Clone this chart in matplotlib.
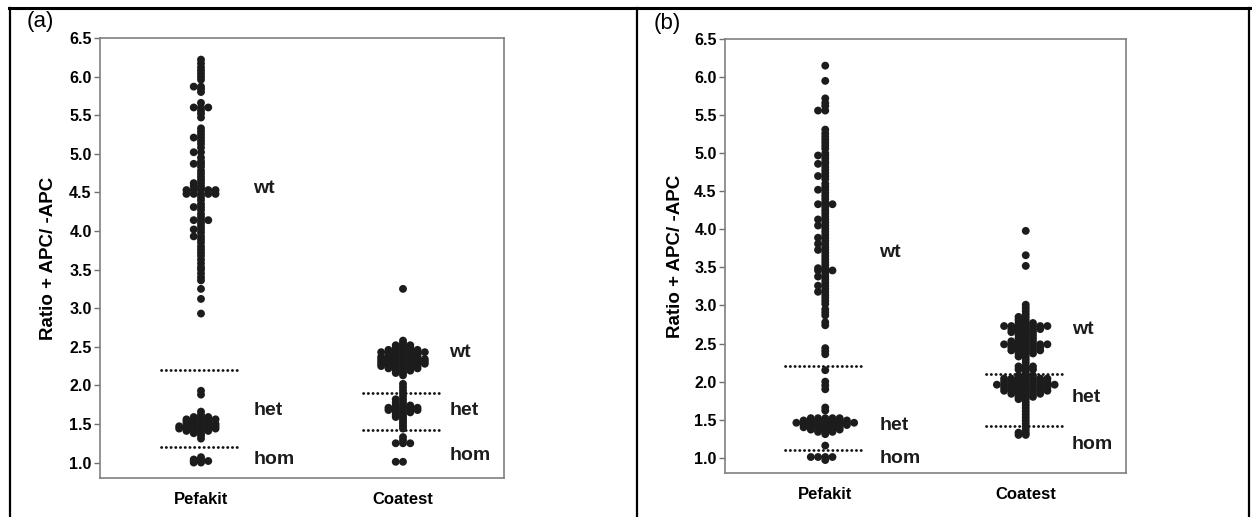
import numpy as np
import matplotlib
matplotlib.use("Agg")
import matplotlib.pyplot as plt
from matplotlib.lines import Line2D

plt.rcParams['font.family'] = ['Liberation Sans', 'DejaVu Sans']

categories = ["Pefakit", "Coatest"]

# panel (a): ratio values, and how many dots sit side by side at that value
a_pef_vals = [6.22, 6.17, 6.12, 6.08, 6.04, 6.00, 5.96, 5.87, 5.84, 5.80, 5.66, 5.60, 5.56, 5.52, 5.47,
              5.33, 5.29, 5.25, 5.21, 5.17, 5.13, 5.08, 5.02, 4.95, 4.90, 4.87, 4.83, 4.78, 4.74, 4.70,
              4.66, 4.62, 4.58, 4.55, 4.53, 4.48, 4.44, 4.40, 4.35, 4.31, 4.27, 4.22, 4.18, 4.14, 4.10,
              4.06, 4.02, 3.98, 3.93, 3.89, 3.85, 3.80, 3.76, 3.72, 3.68, 3.63, 3.58, 3.53, 3.50, 3.45,
              3.40, 3.36, 3.25, 3.12, 2.93,
              1.93, 1.88, 1.66, 1.62, 1.59, 1.56, 1.53, 1.50, 1.47, 1.44, 1.41, 1.38, 1.35, 1.31,
              1.07, 1.04, 1.02, 1.00]
a_pef_n = [1, 1, 1, 1, 1, 1, 1, 2, 1, 1, 1, 3, 1, 1, 1,
           1, 1, 1, 2, 1, 1, 1, 2, 1, 1, 2, 1, 1, 1, 1,
           1, 2, 2, 1, 5, 5, 1, 1, 1, 2, 1, 1, 1, 3, 1,
           1, 2, 1, 2, 1, 1, 1, 1, 1, 1, 1, 1, 1, 1, 1,
           1, 1, 1, 1, 1,
           1, 1, 1, 1, 3, 5, 4, 5, 6, 6, 4, 2, 1, 1,
           1, 2, 3, 2]

a_coa_vals = [3.25, 2.58, 2.55, 2.52, 2.49, 2.46, 2.43, 2.40, 2.37, 2.34, 2.31, 2.28, 2.25, 2.22, 2.19,
              2.16, 2.13,
              2.02, 1.98, 1.94, 1.90, 1.86, 1.82, 1.78, 1.74, 1.71, 1.68, 1.65, 1.62, 1.59, 1.56,
              1.53, 1.50, 1.47, 1.44,
              1.33, 1.29, 1.25, 1.01]
a_coa_n = [1, 1, 1, 3, 3, 5, 7, 5, 6, 7, 7, 7, 6, 5, 3,
           2, 1,
           1, 1, 1, 1, 1, 2, 2, 3, 5, 5, 3, 2, 2, 1,
           1, 1, 1, 1,
           1, 1, 3, 2]

# panel (b)
b_pef_vals = [6.15, 5.95, 5.72, 5.66, 5.62, 5.56, 5.31, 5.26, 5.22, 5.18, 5.14, 5.10, 5.06, 5.00, 4.97,
              4.93, 4.89, 4.86, 4.82, 4.78, 4.74, 4.70, 4.66, 4.60, 4.56, 4.52, 4.48, 4.44, 4.40, 4.36,
              4.33, 4.29, 4.25, 4.21, 4.17, 4.13, 4.09, 4.05, 4.01, 3.97, 3.93, 3.89, 3.85, 3.81, 3.77,
              3.73, 3.69, 3.65, 3.61, 3.57, 3.53, 3.49, 3.46, 3.42, 3.38, 3.34, 3.30, 3.26, 3.22, 3.18,
              3.14, 3.10, 3.06, 3.02, 2.95, 2.91, 2.87, 2.78, 2.74, 2.44, 2.40, 2.36, 2.15, 2.00, 1.95,
              1.90, 1.66, 1.62,
              1.52, 1.49, 1.46, 1.43, 1.40, 1.37, 1.34, 1.31,
              1.16, 1.01, 0.97]
b_pef_n = [1, 1, 1, 1, 1, 2, 1, 1, 1, 1, 1, 1, 1, 1, 2,
           1, 1, 2, 1, 1, 1, 2, 1, 1, 1, 2, 1, 1, 1, 1,
           3, 1, 1, 1, 1, 2, 1, 2, 1, 1, 1, 2, 1, 2, 1,
           2, 1, 1, 1, 1, 1, 2, 3, 1, 2, 1, 1, 2, 1, 2,
           1, 1, 1, 1, 1, 1, 1, 1, 1, 1, 1, 1, 1, 1, 1,
           1, 1, 1,
           5, 7, 9, 7, 6, 5, 3, 1,
           1, 4, 1]

b_coa_vals = [3.98, 3.66, 3.52, 3.01, 2.97, 2.93, 2.89, 2.85, 2.81, 2.77, 2.73, 2.69, 2.65, 2.61, 2.57,
              2.53, 2.49, 2.45, 2.41, 2.37, 2.33, 2.29, 2.25, 2.20, 2.16, 2.12, 2.08, 2.04, 2.00, 1.96,
              1.92, 1.88, 1.84, 1.80, 1.77, 1.73, 1.69, 1.65, 1.61, 1.57, 1.53, 1.49, 1.45, 1.41, 1.37,
              1.33, 1.30]
b_coa_n = [1, 1, 1, 1, 1, 1, 1, 2, 2, 3, 7, 5, 4, 3, 3,
           4, 7, 5, 5, 3, 2, 1, 1, 3, 3, 1, 3, 7, 7, 9,
           7, 7, 5, 3, 2, 1, 1, 1, 1, 1, 1, 1, 1, 1, 1,
           2, 2]

# genotype cut-off lines (upper, lower) for each method
a_cuts = [[2.2, 1.2], [1.9, 1.42]]
b_cuts = [[2.2, 1.1], [2.1, 1.42]]

genotypes = ["wt", "het", "hom"]


def dot_rows(center, vals, counts, step=0.036):
    # spread dots with equal value side by side: centre, left, right, ...
    xs, ys = [], []
    for v, n in zip(vals, counts):
        offs = [0]
        k = 1
        while len(offs) < n:
            offs.append(-k)
            if len(offs) < n:
                offs.append(k)
            k += 1
        for o in offs:
            xs.append(center + o * step)
            ys.append(v)
    return np.array(xs), np.array(ys)


def panel(ax, data, cuts, label_y, label_x, ylab_x):
    for i, (vals, n) in enumerate(data):
        x, y = dot_rows(i, vals, n)
        ax.scatter(x, y, s=32, color="#1c1c1c", edgecolors="none", zorder=3)
        for c in cuts[i]:
            ax.plot([i - 0.2, i + 0.2], [c, c], color="#111111", lw=2.0,
                    linestyle=(0, (0.1, 1.6)), dash_capstyle="round", zorder=2)
        for g, yy in zip(genotypes, label_y[i]):
            ax.text(i + label_x[i], yy, g, fontsize=14, fontweight="bold",
                    va="center", ha="left", color="#1c1c1c")
    ax.set_xlim(-0.5, 1.5)
    ax.set_ylim(0.8, 6.5)
    ax.set_xticks([0, 1])
    ax.set_xticklabels(categories, fontsize=12, fontweight="bold")
    ax.set_yticks(np.arange(1.0, 6.51, 0.5))
    ax.set_yticklabels(["%.1f" % t for t in np.arange(1.0, 6.51, 0.5)],
                       fontsize=11.5, fontweight="bold")
    ax.tick_params(axis="x", length=0, pad=10)
    ax.tick_params(axis="y", length=4, width=1, color="#707070", pad=2)
    for sp in ax.spines.values():
        sp.set_color("#808080")
        sp.set_linewidth(1.2)
    ax.set_ylabel("Ratio + APC/ -APC", fontsize=13.5, fontweight="bold")
    ax.yaxis.set_label_coords(ylab_x, 0.5)


fig = plt.figure(figsize=(12.52, 5.17), dpi=100)
ax1 = fig.add_axes([100 / 1252, 1 - 478 / 517, 404 / 1252, 440 / 517])
ax2 = fig.add_axes([725 / 1252, 1 - 473 / 517, 401 / 1252, 434 / 517])

panel(ax1, [(a_pef_vals, a_pef_n), (a_coa_vals, a_coa_n)], a_cuts,
      [[4.55, 1.68, 1.04], [2.42, 1.68, 1.09]], [0.26, 0.23], -0.106)
panel(ax2, [(b_pef_vals, b_pef_n), (b_coa_vals, b_coa_n)], b_cuts,
      [[3.69, 1.43, 0.99], [2.68, 1.79, 1.17]], [0.27, 0.23], -0.102)

fig.text(27 / 1252, 1 - 22 / 517, "(a)", fontsize=16, va="center", ha="left")
fig.text(654 / 1252, 1 - 23 / 517, "(b)", fontsize=16, va="center", ha="left")

# outer frame of the two panels
fig.add_artist(Line2D([9 / 1252, 1250 / 1252], [1 - 8 / 517, 1 - 8 / 517], color="black", lw=2.2))
fig.add_artist(Line2D([10 / 1252, 10 / 1252], [0, 1 - 8 / 517], color="black", lw=1.6))
fig.add_artist(Line2D([637 / 1252, 637 / 1252], [0, 1 - 8 / 517], color="black", lw=1.6))
fig.add_artist(Line2D([1249 / 1252, 1249 / 1252], [0, 1 - 8 / 517], color="black", lw=1.6))

fig.savefig("out.png", dpi=100)
